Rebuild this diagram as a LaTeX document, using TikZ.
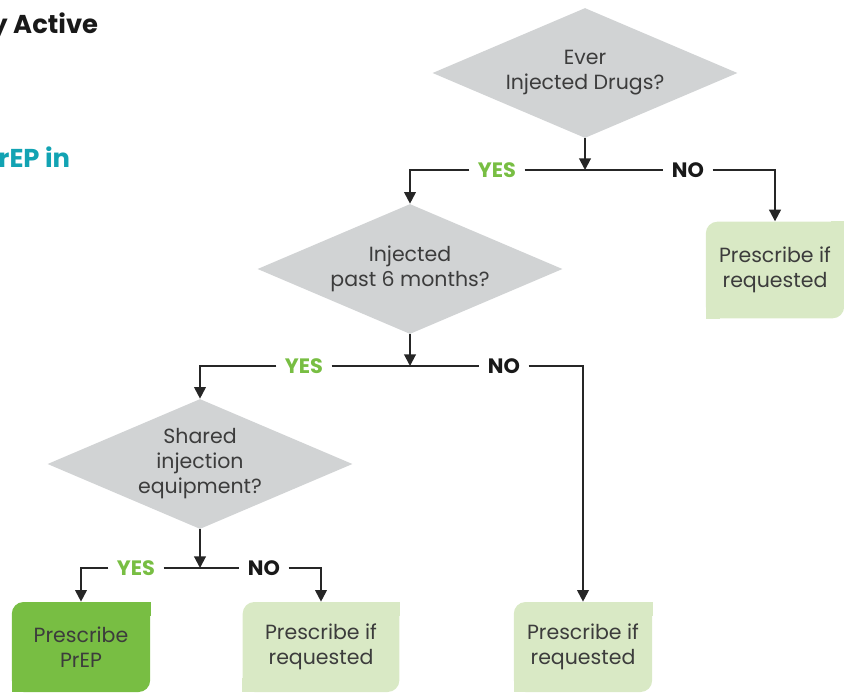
\documentclass[tikz,border=0pt]{standalone}
\usepackage{fontspec}
\setmainfont{Poppins}
\usetikzlibrary{shapes.geometric}
\usetikzlibrary{arrows.meta,positioning}
\definecolor{qgray}{HTML}{D1D3D4}
\definecolor{okgreen}{HTML}{D9E9C5}
\definecolor{prepgreen}{HTML}{78BE43}
\definecolor{headteal}{HTML}{12A3B3}
\definecolor{txtgray}{HTML}{3C3C3C}
\newcommand\bodyfont{\fontsize{12.3}{15}\selectfont}

\begin{document}
\begin{tikzpicture}[x=0.6pt,y=-0.6pt,
        arr/.style={-{Triangle[width=7pt,length=7pt]},line width=1.2pt,black!85},
        ln/.style={line width=1.2pt,black!85},
        answer/.style={font=\fontsize{12.5}{14}\selectfont\bfseries,inner xsep=5pt,inner ysep=0pt}]%
        %\draw[step=50,color=gray,very thin] (0,0) grid (844,694);%%
        \useasboundingbox (0,0) rectangle (844,694); %%
        \node[anchor=east,font=\fontsize{15.5}{18}\selectfont\bfseries,text=black!90] (t1) at (104,27) {y Active}; %%
        \node[anchor=east,font=\fontsize{15.5}{18}\selectfont\bfseries,text=headteal] (t2) at (76,157) {rEP in}; %%
        \begin{scope}[shape=diamond,inner sep=0pt,aspect=2.35,fill=qgray,minimum width=183pt,minimum height=78pt]
        \tikzstyle{every node}=[fill,text=txtgray,align=center,font=\bodyfont] %%
        \node (d1) at (585,73)  {Ever\\Injected Drugs?}; %%
        \node (d2) at (410,269)  {Injected\\past 6 months?}; %%
        \node (d3) at (200,464)  {Shared\\injection\\equipment?}; %%
        \end{scope}%
        \begin{scope}[shape=rectangle,inner sep=0pt,rounded corners=7pt,minimum width=83pt,minimum height=54pt]
        \tikzstyle{every node}=[fill,text=txtgray,align=center,font=\bodyfont] %%
        \node[fill=okgreen,minimum height=58pt] (b1) at (775,270)  {Prescribe if\\requested}; %%
        \node[fill=prepgreen] (b2) at (81,647)  {Prescribe\\PrEP}; %%
        \node[fill=okgreen,minimum width=94pt] (b3) at (321,647)  {Prescribe if\\requested}; %%
        \node[fill=okgreen] (b4) at (583,647)  {Prescribe if\\requested}; %%
        \end{scope}
        % square off the other two corners
        \fill[okgreen] (b1.north east) rectangle +(-14,14); %%
        \fill[okgreen] (b1.south west) rectangle +(14,-14); %%
        \fill[prepgreen] (b2.north east) rectangle +(-14,14); %%
        \fill[prepgreen] (b2.south west) rectangle +(14,-14); %%
        \fill[okgreen] (b3.north east) rectangle +(-14,14); %%
        \fill[okgreen] (b3.south west) rectangle +(14,-14); %%
        \fill[okgreen] (b4.north east) rectangle +(-14,14); %%
        \fill[okgreen] (b4.south west) rectangle +(14,-14); %%
        \node[answer,text=prepgreen] (y1) at (497,170) {YES}; %%
        \node[answer,text=black!90] (n1) at (688,170) {NO}; %%
        \node[answer,text=prepgreen] (y2) at (304,366) {YES}; %%
        \node[answer,text=black!90] (n2) at (504,366) {NO}; %%
        \node[answer,text=prepgreen] (y3) at (136,568) {YES}; %%
        \node[answer,text=black!90] (n3) at (264,568) {NO}; %%
        \draw[arr] (d1.south)--(d1.south |- y1);  %%
        \draw[ln] (y1.east)--(n1.west);  %%
        \draw[arr] (y1.west)-|(d2.north);  %%
        \draw[arr] (n1.east)-|(b1.north);  %%
        \draw[arr] (d2.south)--(d2.south |- y2);  %%
        \draw[ln] (y2.east)--(n2.west);  %%
        \draw[arr] (y2.west)-|(d3.north);  %%
        \draw[arr] (n2.east)-|(b4.north);  %%
        \draw[arr] (d3.south)--(d3.south |- y3);  %%
        \draw[ln] (y3.east)--(n3.west);  %%
        \draw[arr] (y3.west)-|(b2.north);  %%
        \draw[arr] (n3.east)-|(b3.north);  %%
        \end{tikzpicture}
\end{document}
